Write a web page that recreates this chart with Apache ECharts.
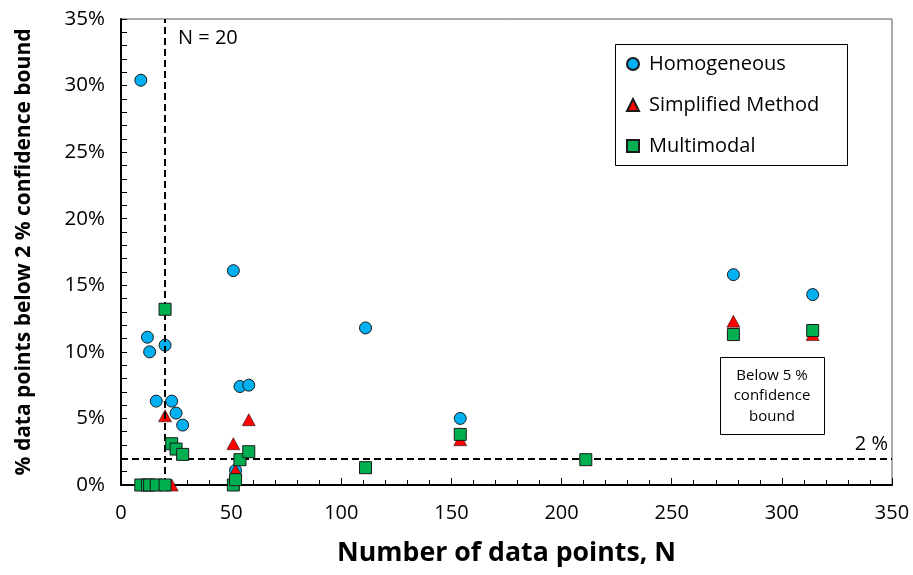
<!DOCTYPE html>
<html><head><meta charset="utf-8">
<script src="https://cdn.jsdelivr.net/npm/echarts@6/dist/echarts.min.js"></script>
<style>html,body{margin:0;padding:0;background:#fff}#c{width:913px;height:575px}</style>
</head><body><div id="c"></div>
<script>
// Data (x = number of data points N, y = % below 2 % confidence bound)
const homX = [9, 12, 13, 16, 20, 23, 25, 28, 51, 52, 54, 58, 111, 154, 278, 314];
const homY = [30.4, 11.1, 10.0, 6.3, 10.5, 6.3, 5.4, 4.5, 16.1, 1.1, 7.4, 7.5, 11.8, 5.0, 15.8, 14.3];
const simX = [20, 23, 51, 52, 58, 154, 278, 314];
const simY = [5.2, 0, 3.1, 1.1, 4.9, 3.4, 12.3, 11.3];
const mulX = [9, 12, 13, 16, 20, 20, 23, 25, 28, 51, 52, 54, 58, 111, 154, 211, 278, 314];
const mulY = [0, 0, 0, 0, 0, 13.2, 3.1, 2.7, 2.3, 0, 0.4, 1.9, 2.5, 1.3, 3.8, 1.9, 11.3, 11.6];
const seriesNames = ['Homogeneous', 'Simplified Method', 'Multimodal'];
const refN = 20;
const refPct = 2;

const FONT = 'Open Sans';
const zip = (xs, ys) => xs.map((x, i) => [x, ys[i]]);

const chart = echarts.init(document.getElementById('c'), null, {renderer: 'canvas'});
chart.setOption({
  animation: false,
  textStyle: {fontFamily: FONT, color: '#000'},
  grid: {left: 121, right: 21, top: 19, bottom: 90, show: true, borderColor: '#595959', borderWidth: 1},
  xAxis: {
    type: 'value', min: 0, max: 350, interval: 50,
    name: 'Number of data points, N', nameLocation: 'middle', nameGap: 55,
    nameTextStyle: {fontFamily: FONT, fontSize: 26.7, fontWeight: 'bold', color: '#000'},
    axisLine: {show: true, onZero: false, lineStyle: {color: '#000', width: 2}},
    axisTick: {show: true, inside: true, length: 7, lineStyle: {color: '#000', width: 1}},
    minorTick: {show: true, splitNumber: 5, length: 5, lineStyle: {color: '#000', width: 1}},
    axisLabel: {fontFamily: FONT, fontSize: 20, color: '#000', margin: 18},
    splitLine: {show: false}
  },
  yAxis: {
    type: 'value', min: 0, max: 35, interval: 5,
    name: '% data points below 2 % confidence bound', nameLocation: 'middle', nameGap: 86,
    nameTextStyle: {fontFamily: FONT, fontSize: 21, fontWeight: 'bold', color: '#000'},
    axisLine: {show: true, onZero: false, lineStyle: {color: '#000', width: 2}},
    axisTick: {show: true, inside: true, length: 6, lineStyle: {color: '#000', width: 1}},
    minorTick: {show: true, splitNumber: 5, length: 6, lineStyle: {color: '#000', width: 1}},
    axisLabel: {fontFamily: FONT, fontSize: 20.5, color: '#000', margin: 16, formatter: '{value}%'},
    splitLine: {show: false}
  },
  legend: {
    data: seriesNames, orient: 'vertical', left: 626, top: 54,
    itemWidth: 12, itemHeight: 12, itemGap: 21, padding: 0,
    textStyle: {fontFamily: FONT, fontSize: 20, color: '#000', padding: [0, 0, 0, 5]}
  },
  graphic: [
    {type: 'rect', left: 615, top: 44, z: 50, silent: true,
     shape: {width: 232, height: 121}, style: {fill: 'rgba(0,0,0,0)', stroke: '#000', lineWidth: 1}},
    {type: 'text', left: 178, top: 28, z: 50,
     style: {text: 'N = 20', fontFamily: FONT, fontSize: 20, fill: '#000'}},
    {type: 'rect', left: 720, top: 357, z: 50,
     shape: {width: 104, height: 77}, style: {fill: '#fff', stroke: '#000', lineWidth: 1}},
    {type: 'text', x: 772, y: 396, z: 51,
     style: {text: 'Below 5 %\nconfidence\nbound', fontFamily: FONT, fontSize: 15, lineHeight: 20.5,
             fill: '#000', align: 'center', verticalAlign: 'middle'}}
  ],
  series: [
    {
      name: 'ref', type: 'line', data: [], z: 1, silent: true,
      markLine: {
        silent: true, symbol: 'none', animation: false,
        lineStyle: {color: '#000', width: 2, type: [7, 4]},
        data: [
          {xAxis: refN, label: {show: false}},
          {yAxis: refPct, label: {show: true, position: 'insideEndTop', formatter: '2 %',
                                  fontFamily: FONT, fontSize: 20, color: '#000', distance: 4}}
        ]
      }
    },
    {
      name: seriesNames[0], type: 'scatter', clip: false, z: 3,
      symbol: 'circle', symbolSize: 12,
      itemStyle: {color: '#00B0F0', borderColor: '#1a1a1a', borderWidth: 1, opacity: 1},
      data: zip(homX, homY)
    },
    {
      name: seriesNames[1], type: 'scatter', clip: false, z: 4,
      symbol: 'triangle', symbolSize: [13, 12],
      itemStyle: {color: '#FF0000', borderColor: '#1a1a1a', borderWidth: 0.6, opacity: 1},
      data: zip(simX, simY)
    },
    {
      name: seriesNames[2], type: 'scatter', clip: false, z: 5,
      symbol: 'rect', symbolSize: 12,
      itemStyle: {color: '#00B050', borderColor: '#1a1a1a', borderWidth: 1, opacity: 1},
      data: zip(mulX, mulY)
    }
  ]
});
</script></body></html>
